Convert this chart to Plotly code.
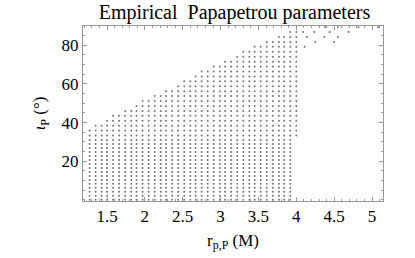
import plotly.graph_objects as go

# grid columns of r_p (M)
cols = [1.27, 1.35, 1.43, 1.50, 1.58, 1.66, 1.74, 1.82, 1.89, 1.97, 2.05, 2.13,
        2.21, 2.28, 2.36, 2.44, 2.52, 2.60, 2.67, 2.75, 2.83, 2.91, 2.99, 3.06,
        3.14, 3.22, 3.30, 3.38, 3.45, 3.53, 3.61, 3.69, 3.77, 3.84, 3.92, 4.00]

# lower block rows (deg), all spanning 1.27 .. 3.92
lower_rows = [0.0, 2.07, 4.13, 6.2, 8.27, 10.33, 12.4, 14.47, 16.53, 18.6,
              20.67, 22.73, 24.8, 26.87, 28.93, 31.0]
lower_end = 3.92

# upper rows (deg) with their first and last r_p
upper_rows = [33.3, 35.85, 38.4, 40.95, 43.5, 46.05, 48.6, 51.15, 53.7, 56.25,
              58.8, 61.35, 63.9, 66.45, 69.0, 71.55, 74.1, 76.65, 79.2, 81.75,
              84.3, 86.85]
upper_start = [1.27, 1.27, 1.33, 1.45, 1.58, 1.70, 1.83, 1.94, 2.07, 2.23,
               2.38, 2.51, 2.63, 2.75, 2.87, 3.01, 3.15, 3.30, 3.44, 3.58,
               3.71, 3.87]
upper_end = [4.0, 4.0, 4.0, 4.0, 4.0, 4.0, 4.0, 4.0, 4.0, 4.0,
             4.0, 4.0, 4.0, 4.0, 4.0, 4.0, 4.0, 4.0, 4.0, 4.0,
             4.0, 4.0]

# scattered points beyond the block
sparse_r = [4.11, 4.25, 4.50, 4.14, 4.37, 4.55, 4.09, 4.24, 4.44, 4.69,
            4.38, 4.55, 4.82, 5.08]
sparse_i = [79.2, 81.75, 81.75, 84.3, 84.3, 84.3, 86.85, 86.85, 86.85, 86.85,
            89.4, 89.4, 89.4, 89.4]

xs, ys = [], []
for y in lower_rows:
    for x in cols:
        if x <= lower_end + 1e-6:
            xs.append(x)
            ys.append(y)
for y, a, b in zip(upper_rows, upper_start, upper_end):
    for x in cols:
        if a - 1e-6 <= x <= b + 1e-6:
            xs.append(x)
            ys.append(y)
xs += sparse_r
ys += sparse_i

serif = "Liberation Serif, Times New Roman, serif"

fig = go.Figure(go.Scatter(
    x=xs, y=ys, mode="markers",
    marker=dict(size=2, color="#747474", line=dict(width=0)),
    hoverinfo="skip"))

fig.update_layout(
    width=415, height=258,
    margin=dict(l=83, r=32, t=26, b=48),
    paper_bgcolor="white", plot_bgcolor="white",
    showlegend=False,
    font=dict(family=serif, size=17, color="black"),
    title=dict(text="Empirical  Papapetrou parameters", x=0.565, xanchor="center",
               y=0.955, yanchor="middle", font=dict(family=serif, size=20)),
)

fig.update_xaxes(
    range=[1.183, 5.145], showgrid=False, zeroline=False,
    showline=True, linecolor="#999999", linewidth=1, mirror="ticks",
    tickvals=[1.5, 2, 2.5, 3, 3.5, 4, 4.5, 5],
    ticktext=["1.5", "2", "2.5", "3", "3.5", "4", "4.5", "5"],
    ticks="inside", ticklen=4, tickcolor="#999999",
    minor=dict(dtick=0.1, tick0=0, ticks="inside", ticklen=2, tickcolor="#999999"),
    tickfont=dict(size=17),
    title=dict(text="r<sub>p,P</sub> (M)", standoff=8, font=dict(size=17)),
)
fig.update_yaxes(
    range=[-0.6, 90], showgrid=False, zeroline=False,
    showline=True, linecolor="#999999", linewidth=1, mirror="ticks",
    tickvals=[20, 40, 60, 80],
    ticks="inside", ticklen=4, tickcolor="#999999",
    minor=dict(dtick=5, tick0=0, ticks="inside", ticklen=2, tickcolor="#999999"),
    tickfont=dict(size=17),
    title=dict(text="<i>ι</i><sub>P</sub> (°)", standoff=11, font=dict(size=17)),
)

fig.write_html("out.html", config={"displayModeBar": False},
               post_script="document.body.style.margin='0';")
